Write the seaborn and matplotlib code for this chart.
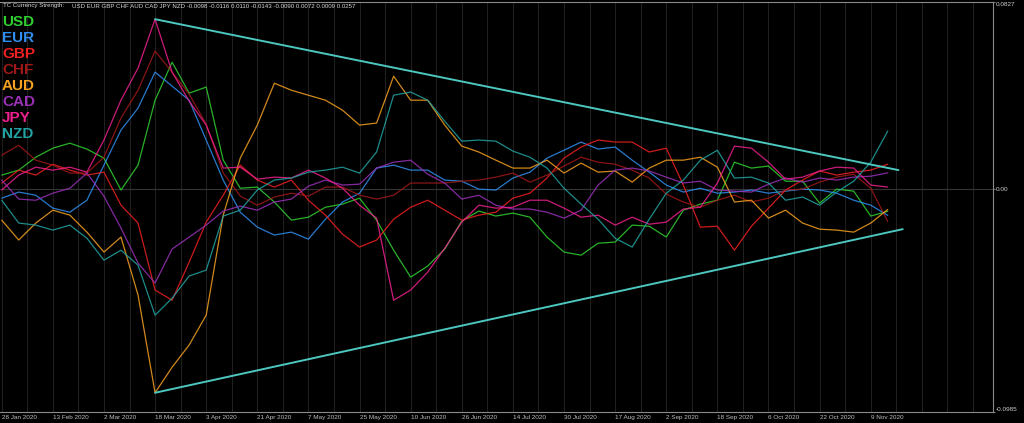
import matplotlib
matplotlib.use("Agg")
from matplotlib import pyplot as plt
import pandas as pd
import seaborn as sns

# bar index (daily bars, sampled every 4 bars)
bars = list(range(0, 209, 4))

usd = [0.0062, 0.0084, 0.0141, 0.0181, 0.0203, 0.0177, 0.0137, -0.0004, 0.0106, 0.0393,
       0.0561, 0.0424, 0.0451, 0.0128, 0.0004, 0.0009, -0.0057, -0.0137, -0.0124, -0.0080,
       -0.0066, -0.0040, -0.0137, -0.0270, -0.0389, -0.0340, -0.0265, -0.0141, -0.0097, -0.0119,
       -0.0106, -0.0124, -0.0212, -0.0278, -0.0292, -0.0239, -0.0234, -0.0159, -0.0164, -0.0212,
       -0.0093, -0.0066, -0.0049, 0.0119, 0.0093, 0.0102, 0.0035, 0.0035, -0.0062, 0.0000,
       -0.0009, -0.0119, -0.0098]
eur = [-0.0040, -0.0013, -0.0027, -0.0084, -0.0102, -0.0049, 0.0106, 0.0261, 0.0358, 0.0517,
       0.0455, 0.0393, 0.0217, 0.0040, -0.0102, -0.0168, -0.0203, -0.0190, -0.0221, -0.0133,
       -0.0057, -0.0018, 0.0093, 0.0106, 0.0084, 0.0084, 0.0040, 0.0035, 0.0000, -0.0004,
       0.0049, 0.0075, 0.0137, 0.0172, 0.0208, 0.0177, 0.0186, 0.0128, 0.0075, 0.0018,
       -0.0013, 0.0004, -0.0018, -0.0013, -0.0004, -0.0018, -0.0009, 0.0000, -0.0004, -0.0018,
       -0.0049, -0.0071, -0.0116]
gbp = [0.0027, 0.0084, 0.0062, 0.0110, 0.0084, 0.0062, 0.0075, -0.0071, -0.0150, -0.0446,
       -0.0491, -0.0323, -0.0146, -0.0027, 0.0106, 0.0040, 0.0009, 0.0040, -0.0049, -0.0115,
       -0.0199, -0.0256, -0.0225, -0.0133, -0.0080, -0.0049, -0.0093, -0.0137, -0.0115, -0.0102,
       -0.0040, -0.0018, 0.0049, 0.0137, 0.0186, 0.0217, 0.0208, 0.0208, 0.0164, 0.0181,
       0.0018, -0.0168, -0.0164, -0.0270, -0.0164, -0.0084, -0.0004, 0.0040, 0.0080, 0.0062,
       0.0075, 0.0084, 0.0110]
chf = [0.0150, 0.0194, 0.0128, 0.0106, 0.0071, 0.0071, 0.0141, 0.0314, 0.0437, 0.0610,
       0.0517, 0.0420, 0.0287, 0.0071, -0.0031, -0.0071, -0.0035, -0.0018, -0.0031, 0.0009,
       0.0009, -0.0027, -0.0044, -0.0027, 0.0027, 0.0027, 0.0027, 0.0035, 0.0040, 0.0053,
       0.0071, 0.0031, 0.0062, 0.0102, 0.0141, 0.0119, 0.0110, 0.0084, 0.0049, -0.0022,
       -0.0057, -0.0080, -0.0049, -0.0027, -0.0057, -0.0040, -0.0004, 0.0000, 0.0031, 0.0053,
       0.0066, 0.0004, -0.0143]
aud = [-0.0137, -0.0225, -0.0150, -0.0093, -0.0115, -0.0190, -0.0278, -0.0212, -0.0468, -0.0900,
       -0.0787, -0.0689, -0.0557, -0.0115, 0.0137, 0.0283, 0.0468, 0.0437, 0.0415, 0.0393,
       0.0349, 0.0283, 0.0292, 0.0499, 0.0393, 0.0393, 0.0283, 0.0190, 0.0164, 0.0128,
       0.0093, 0.0093, 0.0128, 0.0071, 0.0115, 0.0075, 0.0080, 0.0031, 0.0093, 0.0128,
       0.0128, 0.0141, 0.0097, -0.0057, -0.0049, -0.0128, -0.0093, -0.0150, -0.0177, -0.0181,
       -0.0190, -0.0150, -0.0090]
cad = [0.0040, -0.0044, -0.0049, -0.0018, 0.0004, 0.0071, -0.0031, -0.0172, -0.0327, -0.0415,
       -0.0265, -0.0212, -0.0159, -0.0097, -0.0075, -0.0093, -0.0057, -0.0044, 0.0013, 0.0040,
       0.0018, 0.0022, 0.0093, 0.0119, 0.0128, 0.0066, 0.0027, -0.0044, -0.0027, -0.0071,
       -0.0088, -0.0088, -0.0102, -0.0128, -0.0093, 0.0018, 0.0084, 0.0093, 0.0080, 0.0053,
       0.0027, 0.0035, -0.0004, -0.0009, -0.0013, 0.0022, 0.0049, 0.0031, 0.0049, 0.0040,
       0.0053, 0.0057, 0.0072]
jpy = [-0.0004, 0.0062, 0.0097, 0.0084, 0.0097, 0.0075, 0.0217, 0.0393, 0.0535, 0.0751,
       0.0517, 0.0389, 0.0283, 0.0093, 0.0097, 0.0044, 0.0053, 0.0049, 0.0084, 0.0049,
       0.0004, -0.0071, -0.0128, -0.0491, -0.0446, -0.0367, -0.0261, -0.0146, -0.0071, -0.0084,
       -0.0080, -0.0049, -0.0049, -0.0084, -0.0124, -0.0115, -0.0159, -0.0124, -0.0155, -0.0146,
       -0.0088, -0.0080, 0.0027, 0.0190, 0.0181, 0.0119, 0.0044, 0.0053, 0.0080, 0.0097,
       0.0093, 0.0018, 0.0009]
nzd = [-0.0049, -0.0150, -0.0159, -0.0181, -0.0159, -0.0217, -0.0314, -0.0270, -0.0336, -0.0557,
       -0.0482, -0.0384, -0.0358, -0.0119, -0.0093, -0.0004, 0.0040, 0.0049, 0.0075, 0.0084,
       0.0097, 0.0071, 0.0164, 0.0415, 0.0429, 0.0393, 0.0300, 0.0212, 0.0217, 0.0212,
       0.0168, 0.0141, 0.0093, 0.0004, -0.0066, -0.0133, -0.0217, -0.0256, -0.0133, -0.0018,
       0.0040, 0.0128, 0.0172, 0.0049, 0.0053, 0.0027, -0.0049, -0.0035, -0.0071, -0.0013,
       0.0035, 0.0119, 0.0257]

currencies = ["USD", "EUR", "GBP", "CHF", "AUD", "CAD", "JPY", "NZD"]
latest = [-0.0098, -0.0116, 0.0110, -0.0143, -0.0090, 0.0072, 0.0009, 0.0257]
colors = {"USD": "#2fd02f", "EUR": "#2f8ff0", "GBP": "#f02020", "CHF": "#a01818",
          "AUD": "#f5a020", "CAD": "#9a30b8", "JPY": "#f0208f", "NZD": "#22a3a3"}

date_labels = ["28 Jan 2020", "13 Feb 2020", "2 Mar 2020", "18 Mar 2020", "3 Apr 2020",
               "21 Apr 2020", "7 May 2020", "25 May 2020", "10 Jun 2020", "26 Jun 2020",
               "14 Jul 2020", "30 Jul 2020", "17 Aug 2020", "2 Sep 2020", "18 Sep 2020",
               "6 Oct 2020", "22 Oct 2020", "9 Nov 2020"]
date_bars = list(range(0, 205, 12))
grid_bars = list(range(0, 233, 6))

# hand drawn triangle lines
upper_x, upper_y = [36, 210.5], [0.0751, 0.0084]
lower_x, lower_y = [36, 211.5], [-0.0900, -0.0177]
y_top, y_bottom = 0.0827, -0.0985

df = pd.DataFrame({"bar": bars, "USD": usd, "EUR": eur, "GBP": gbp, "CHF": chf,
                   "AUD": aud, "CAD": cad, "JPY": jpy, "NZD": nzd})
long_df = df.melt(id_vars="bar", var_name="currency", value_name="strength")

sns.set_style("dark")
plt.rcParams['font.family'] = ['Liberation Sans', 'DejaVu Sans']

fig = plt.figure(figsize=(10.24, 4.23), dpi=100, facecolor="black")
ax = fig.add_axes([0, 11 / 423, 993 / 1024, 410 / 423])
ax.set_facecolor("black")

for b in grid_bars:
    ax.axvline(b, color="#1f1f1f", lw=0.8, zorder=0)
ax.axhline(0, color="#343434", lw=0.8, zorder=0)

sns.lineplot(data=long_df, x="bar", y="strength", hue="currency", palette=colors,
             hue_order=currencies, linewidth=0.9, alpha=0.85, legend=False, ax=ax)

ax.plot(upper_x, upper_y, color="#4cc8c0", lw=1.4)
ax.plot(lower_x, lower_y, color="#4cc8c0", lw=1.4)

ax.set_xlim(-0.4, 232.7)
ax.set_ylim(y_bottom, y_top)
ax.set_xlabel("")
ax.set_ylabel("")

ax.set_xticks(date_bars)
ax.set_xticklabels(date_labels, ha="left", fontsize=4.6, color="#bdbdbd")
ax.tick_params(axis="x", length=1.5, color="#808080", pad=0.6)

ax.yaxis.tick_right()
ax.set_yticks([y_bottom, 0, y_top])
ax.set_yticklabels(["-0.0985", "0.00", "0.0827"], fontsize=4.6, color="#cfcfcf")
for lab, va in zip(ax.get_yticklabels(), ["bottom", "center", "top"]):
    lab.set_va(va)
ax.tick_params(axis="y", length=1.5, color="#808080", pad=0.8)

for side in ["top", "right", "bottom"]:
    ax.spines[side].set_color("#8a8a8a")
    ax.spines[side].set_linewidth(0.8)
ax.spines["left"].set_visible(False)
ax.grid(False)

# header line
fig.text(3 / 1024, 1 - 6 / 423, "TC Currency Strength:", fontsize=4.4, color="#d8d8d8", va="center")
header = " ".join(currencies) + " " + " ".join(f"{v:.4f}" for v in latest)
fig.text(72 / 1024, 1 - 6 / 423, header, fontsize=4.4, color="#d8d8d8", va="center")

# coloured labels on the left
for i, cur in enumerate(currencies):
    fig.text(2 / 1024, 1 - (22 + 16 * i) / 423, cur, fontsize=11, fontweight="bold",
             color=colors[cur], va="center")

fig.savefig("out.png", dpi=100, facecolor="black")
